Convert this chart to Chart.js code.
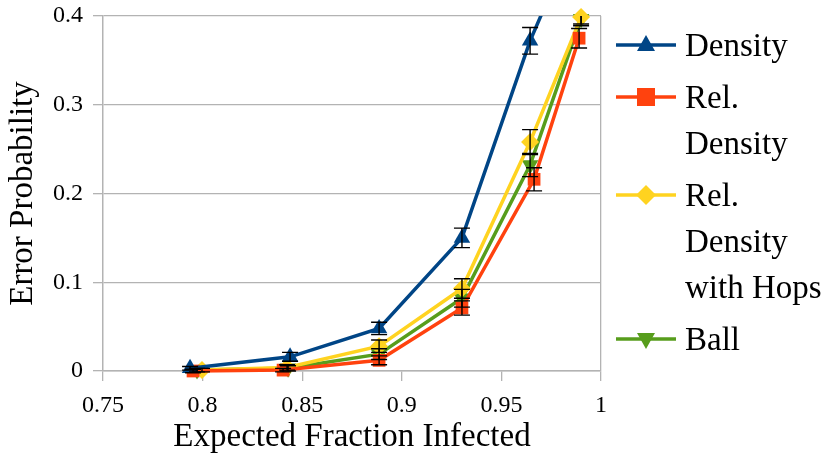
<!DOCTYPE html>
<html><head><meta charset="utf-8">
<script src="https://cdn.jsdelivr.net/npm/chart.js@4"></script>
<style>
html,body{margin:0;padding:0;background:#fff;}
#wrap{position:relative;width:830px;height:458px;overflow:hidden;}
#legend{position:absolute;left:616px;top:22px;font-family:"Liberation Serif",serif;font-size:33px;color:#000;}
.item{display:flex;align-items:flex-start;margin-bottom:6px;}
.item svg{flex:none;margin-right:9px;}
.item .txt{width:150px;line-height:46px;}
</style></head><body>
<div id="wrap"><canvas id="c" width="830" height="458"></canvas><div id="legend"></div></div>
<script>
// ---- data ----
const seriesNames = ["Density", "Rel. Density", "Rel. Density with Hops", "Ball"];
const xDensity = [0.7937, 0.8439, 0.8886, 0.9302, 0.9644, 0.989];
const yDensity = [0.003, 0.016, 0.048, 0.150, 0.372, 0.50];
const eDensity = [0.002, 0.005, 0.007, 0.011, 0.015, 0.02];
const xRel = [0.7952, 0.8404, 0.8886, 0.9302, 0.9664, 0.989];
const yRel = [0.000, 0.001, 0.012, 0.071, 0.216, 0.375];
const eRel = [0.002, 0.002, 0.005, 0.008, 0.013, 0.011];
const xHops = [0.7997, 0.8424, 0.8886, 0.9302, 0.9644, 0.990];
const yHops = [0.001, 0.004, 0.028, 0.093, 0.258, 0.399];
const eHops = [0.002, 0.003, 0.007, 0.011, 0.014, 0.008];
const xBall = [0.7972, 0.8429, 0.8886, 0.9302, 0.9644, 0.990];
const yBall = [0.001, 0.003, 0.019, 0.082, 0.232, 0.397];
const eBall = [0.002, 0.003, 0.006, 0.010, 0.013, 0.008];
const xTicks = [0.75, 0.8, 0.85, 0.9, 0.95, 1];
const yTicks = [0, 0.1, 0.2, 0.3, 0.4];

// ---- styles ----
const colors = ["#004586", "#ff420e", "#ffd320", "#579d1c"];
const styles = ["triangle", "rect", "rectRot", "triangle"];
const rotations = [0, 0, 0, 180];
const radii = [9.5, 9, 9, 9.5];

const xs = [xDensity, xRel, xHops, xBall];
const ys = [yDensity, yRel, yHops, yBall];
const es = [eDensity, eRel, eHops, eBall];

const datasets = seriesNames.map((name, k) => ({
  label: name,
  data: xs[k].map((xv, i) => ({x: xv, y: ys[k][i]})),
  errors: es[k],
  borderColor: colors[k],
  backgroundColor: colors[k],
  borderWidth: 3.5,
  pointStyle: styles[k],
  rotation: rotations[k],
  pointRadius: radii[k],
  pointBorderWidth: 0,
  showLine: true,
  tension: 0,
  clip: k === 0 ? {left: 15, top: 0, right: 15, bottom: 15} : {left: 15, top: 12, right: 15, bottom: 15}
}));

const errorBars = {
  id: 'errorBars',
  afterDatasetsDraw(chart) {
    const {ctx, chartArea: a, scales: {x, y}} = chart;
    ctx.save();
    ctx.beginPath();
    ctx.rect(a.left - 15, a.top, a.right - a.left + 30, a.bottom - a.top + 15);
    ctx.clip();
    ctx.strokeStyle = '#000';
    ctx.lineWidth = 1.4;
    chart.data.datasets.forEach(ds => {
      ds.data.forEach((p, i) => {
        const e = ds.errors[i];
        const px = x.getPixelForValue(p.x);
        const y1 = y.getPixelForValue(p.y + e), y2 = y.getPixelForValue(p.y - e);
        ctx.beginPath();
        ctx.moveTo(px, y1); ctx.lineTo(px, y2);
        ctx.moveTo(px - 8, y1); ctx.lineTo(px + 8, y1);
        ctx.moveTo(px - 8, y2); ctx.lineTo(px + 8, y2);
        ctx.stroke();
      });
    });
    ctx.restore();
  }
};

const FONT = "'Liberation Serif', serif";
const GRID = '#b3b3b3';

new Chart(document.getElementById('c'), {
  type: 'line',
  data: {datasets},
  plugins: [errorBars],
  options: {
    responsive: false,
    animation: false,
    layout: {padding: {top: 16, right: 229, left: 0, bottom: 0}},
    plugins: {legend: {display: false}, tooltip: {enabled: false}},
    scales: {
      x: {
        type: 'linear', min: 0.75, max: 1,
        afterBuildTicks: s => { s.ticks = xTicks.map(v => ({value: v})); },
        afterFit: s => { s.height = 87; s.paddingLeft = 0; s.paddingRight = 0; },
        ticks: {font: {family: FONT, size: 24}, color: '#000', padding: 10,
          callback: v => String(v)},
        grid: {
          color: c => (c.tick && c.tick.value === 1) ? GRID : 'rgba(0,0,0,0)',
          tickColor: GRID, tickLength: 10, lineWidth: 1.3
        },
        border: {display: true, color: GRID, width: 1.5},
        title: {display: true, text: 'Expected Fraction Infected',
          font: {family: FONT, size: 33}, color: '#000', padding: {top: 0, bottom: 1}}
      },
      y: {
        type: 'linear', min: 0, max: 0.4,
        afterBuildTicks: s => { s.ticks = yTicks.map(v => ({value: v})); },
        afterFit: s => { s.width = 103; s.paddingTop = 0; s.paddingBottom = 0; },
        ticks: {font: {family: FONT, size: 24}, color: '#000', padding: 10,
          callback: v => String(v)},
        grid: {color: GRID, tickColor: GRID, tickLength: 10, lineWidth: 1.3},
        border: {display: true, color: GRID, width: 1.5},
        title: {display: true, text: 'Error Probability',
          font: {family: FONT, size: 33}, color: '#000', padding: {top: 4, bottom: 4}}
      }
    }
  }
});

// ---- HTML legend ----
const leg = document.getElementById('legend');
function markerSvg(k) {
  const c = colors[k], cx = 30, cy = 23;
  let shape = '';
  if (styles[k] === 'triangle' && rotations[k] === 0)
    shape = `<polygon points="${cx},${cy-10} ${cx+9},${cy+6} ${cx-9},${cy+6}" fill="${c}"/>`;
  else if (styles[k] === 'triangle')
    shape = `<polygon points="${cx},${cy+10} ${cx+9},${cy-6} ${cx-9},${cy-6}" fill="${c}"/>`;
  else if (styles[k] === 'rect')
    shape = `<rect x="${cx-9}" y="${cy-9}" width="18" height="18" fill="${c}"/>`;
  else
    shape = `<polygon points="${cx},${cy-10} ${cx+10},${cy} ${cx},${cy+10} ${cx-10},${cy}" fill="${c}"/>`;
  return `<svg width="60" height="46"><line x1="0" y1="${cy}" x2="60" y2="${cy}" stroke="${c}" stroke-width="3.5"/>${shape}</svg>`;
}
seriesNames.forEach((n, k) => {
  const d = document.createElement('div');
  d.className = 'item';
  d.innerHTML = markerSvg(k) + `<div class="txt">${n}</div>`;
  leg.appendChild(d);
});
</script>
</body></html>
